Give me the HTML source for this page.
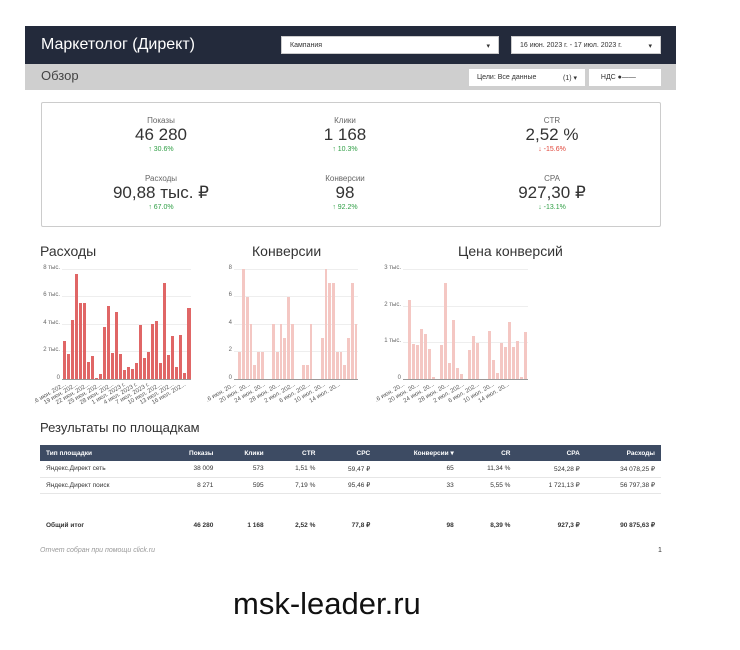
<!DOCTYPE html><html><head><meta charset="utf-8"><style>
*{margin:0;padding:0;box-sizing:border-box}
body{width:740px;height:650px;background:#fff;font-family:"Liberation Sans","Noto Sans CJK SC",sans-serif;position:relative;overflow:hidden;color:#333}
.a{position:absolute}
.hd{left:25px;top:26px;width:651px;height:38px;background:#232a3b}
.sb{left:25px;top:64px;width:651px;height:26px;background:#cfcfcf}
.dd{background:#fff;font-size:7px;color:#333;padding:5px 8px;height:18px;border:1px solid #ccc}
.kpi{left:41px;top:102px;width:620px;height:125px;border:1px solid #ccc;border-radius:2px}
.k{position:absolute;width:200px;text-align:center}
.k .l{font-size:8px;color:#666}.k .v{font-size:17px;color:#333;line-height:20px}.k .c{font-size:7px;color:#2e9e44;margin-top:1px}
.ct{font-size:14px;color:#333}
.bars{position:absolute;display:flex;align-items:flex-end;height:110px}
.bars div{flex:1;margin:0 0.5px}
.g{position:absolute;height:1px;background:#eee}
.yl{position:absolute;font-size:6px;color:#666;text-align:right;width:28px}
.xl{position:absolute;font-size:6px;color:#555;transform:rotate(-30deg);transform-origin:right top;white-space:nowrap;text-align:right}
table{border-collapse:collapse;font-size:6.5px}
td,th{padding:0 6px;text-align:right;height:16px}
th{background:#3d4b63;color:#fff;font-weight:bold}
td:first-child,th:first-child{text-align:left}
</style></head><body>
<div class="a hd"></div>
<div class="a" style="left:41px;top:36px;font-size:16px;color:#fff">Маркетолог (Директ)</div>
<div class="a dd" style="left:281px;top:36px;width:218px">Кампания<span style="float:right">▾</span></div>
<div class="a dd" style="left:511px;top:36px;width:150px">16 июн. 2023 г. - 17 июл. 2023 г.<span style="float:right">▾</span></div>
<div class="a sb"></div>
<div class="a" style="left:41px;top:68px;font-size:13px;color:#444">Обзор</div>
<div class="a dd" style="left:469px;top:69px;width:116px;height:17px;border:none">Цели: Все данные<span style="float:right">(1) ▾</span></div>
<div class="a dd" style="left:589px;top:69px;width:72px;height:17px;border:none">&nbsp;&nbsp;НДС ●——</div>
<div class="a kpi"></div>
<div class="k" style="left:61px;top:116px"><div class="l">Показы</div><div class="v">46 280</div><div class="c">↑ 30.6%</div></div>
<div class="k" style="left:245px;top:116px"><div class="l">Клики</div><div class="v">1 168</div><div class="c">↑ 10.3%</div></div>
<div class="k" style="left:452px;top:116px"><div class="l">CTR</div><div class="v">2,52 %</div><div class="c" style="color:#e0463a">↓ -15.6%</div></div>
<div class="k" style="left:61px;top:174px"><div class="l">Расходы</div><div class="v">90,88 тыс. ₽</div><div class="c">↑ 67.0%</div></div>
<div class="k" style="left:245px;top:174px"><div class="l">Конверсии</div><div class="v">98</div><div class="c">↑ 92.2%</div></div>
<div class="k" style="left:452px;top:174px"><div class="l">CPA</div><div class="v">927,30 ₽</div><div class="c">↓ -13.1%</div></div>

<div class="a ct" style="left:40px;top:243px">Расходы</div>
<div class="a ct" style="left:252px;top:243px">Конверсии</div>
<div class="a ct" style="left:458px;top:243px">Цена конверсий</div>

<!-- chart1 -->
<div class="g" style="left:62px;top:269px;width:129px"></div><div class="g" style="left:62px;top:296px;width:129px"></div><div class="g" style="left:62px;top:324px;width:129px"></div><div class="g" style="left:62px;top:351px;width:129px"></div>
<div class="yl" style="left:32px;top:265px">8 тыс.</div><div class="yl" style="left:32px;top:292px">6 тыс.</div><div class="yl" style="left:32px;top:320px">4 тыс.</div><div class="yl" style="left:32px;top:347px">2 тыс.</div><div class="yl" style="left:32px;top:375px">0</div>
<div class="bars" style="left:62px;top:269px;width:129px">
<div style="height:38px;background:#e06666"></div><div style="height:25px;background:#e06666"></div><div style="height:59px;background:#e06666"></div><div style="height:105px;background:#e06666"></div><div style="height:76px;background:#e06666"></div><div style="height:76px;background:#e06666"></div><div style="height:17px;background:#e06666"></div><div style="height:23px;background:#e06666"></div><div style="height:1px;background:#e06666"></div><div style="height:5px;background:#e06666"></div><div style="height:52px;background:#e06666"></div><div style="height:73px;background:#e06666"></div><div style="height:26px;background:#e06666"></div><div style="height:67px;background:#e06666"></div><div style="height:25px;background:#e06666"></div><div style="height:9px;background:#e06666"></div><div style="height:12px;background:#e06666"></div><div style="height:10px;background:#e06666"></div><div style="height:16px;background:#e06666"></div><div style="height:54px;background:#e06666"></div><div style="height:21px;background:#e06666"></div><div style="height:27px;background:#e06666"></div><div style="height:55px;background:#e06666"></div><div style="height:58px;background:#e06666"></div><div style="height:16px;background:#e06666"></div><div style="height:96px;background:#e06666"></div><div style="height:24px;background:#e06666"></div><div style="height:43px;background:#e06666"></div><div style="height:12px;background:#e06666"></div><div style="height:44px;background:#e06666"></div><div style="height:6px;background:#e06666"></div><div style="height:71px;background:#e06666"></div>
</div>
<div class="g" style="left:62px;top:379px;width:129px;background:#999"></div>
<div class="xl" style="right:676px;top:382px">.6 июн. 202...</div><div class="xl" style="right:664px;top:382px">19 июн. 202...</div><div class="xl" style="right:652px;top:382px">22 июн. 202...</div><div class="xl" style="right:640px;top:382px">25 июн. 202...</div><div class="xl" style="right:628px;top:382px">28 июн. 202...</div><div class="xl" style="right:616px;top:382px">1 июл. 2023 г.</div><div class="xl" style="right:604px;top:382px">4 июл. 2023 г.</div><div class="xl" style="right:592px;top:382px">7 июл. 2023 г.</div><div class="xl" style="right:580px;top:382px">10 июл. 202...</div><div class="xl" style="right:568px;top:382px">13 июл. 202...</div><div class="xl" style="right:556px;top:382px">16 июл. 202...</div>

<!-- chart2 -->
<div class="g" style="left:234px;top:269px;width:124px"></div><div class="g" style="left:234px;top:296px;width:124px"></div><div class="g" style="left:234px;top:324px;width:124px"></div><div class="g" style="left:234px;top:351px;width:124px"></div>
<div class="yl" style="left:204px;top:265px">8</div><div class="yl" style="left:204px;top:292px">6</div><div class="yl" style="left:204px;top:320px">4</div><div class="yl" style="left:204px;top:347px">2</div><div class="yl" style="left:204px;top:375px">0</div>
<div class="bars" style="left:234px;top:269px;width:124px">
<div style="height:0"></div><div style="height:27px;background:#f4c7c3"></div><div style="height:110px;background:#f4c7c3"></div><div style="height:82px;background:#f4c7c3"></div><div style="height:55px;background:#f4c7c3"></div><div style="height:14px;background:#f4c7c3"></div><div style="height:27px;background:#f4c7c3"></div><div style="height:27px;background:#f4c7c3"></div><div style="height:0"></div><div style="height:0"></div><div style="height:55px;background:#f4c7c3"></div><div style="height:27px;background:#f4c7c3"></div><div style="height:55px;background:#f4c7c3"></div><div style="height:41px;background:#f4c7c3"></div><div style="height:82px;background:#f4c7c3"></div><div style="height:55px;background:#f4c7c3"></div><div style="height:0"></div><div style="height:0"></div><div style="height:14px;background:#f4c7c3"></div><div style="height:14px;background:#f4c7c3"></div><div style="height:55px;background:#f4c7c3"></div><div style="height:0"></div><div style="height:0"></div><div style="height:41px;background:#f4c7c3"></div><div style="height:110px;background:#f4c7c3"></div><div style="height:96px;background:#f4c7c3"></div><div style="height:96px;background:#f4c7c3"></div><div style="height:27px;background:#f4c7c3"></div><div style="height:27px;background:#f4c7c3"></div><div style="height:14px;background:#f4c7c3"></div><div style="height:41px;background:#f4c7c3"></div><div style="height:96px;background:#f4c7c3"></div><div style="height:55px;background:#f4c7c3"></div>
</div>
<div class="g" style="left:234px;top:379px;width:124px;background:#999"></div>
<div class="xl" style="right:506px;top:382px">.6 июн. 20...</div><div class="xl" style="right:491px;top:382px">20 июн. 20...</div><div class="xl" style="right:476px;top:382px">24 июн. 20...</div><div class="xl" style="right:461px;top:382px">28 июн. 20...</div><div class="xl" style="right:446px;top:382px">2 июл. 202...</div><div class="xl" style="right:431px;top:382px">6 июл. 202...</div><div class="xl" style="right:416px;top:382px">10 июл. 20...</div><div class="xl" style="right:401px;top:382px">14 июл. 20...</div>

<!-- chart3 -->
<div class="g" style="left:403px;top:269px;width:125px"></div><div class="g" style="left:403px;top:306px;width:125px"></div><div class="g" style="left:403px;top:342px;width:125px"></div>
<div class="yl" style="left:373px;top:265px">3 тыс.</div><div class="yl" style="left:373px;top:302px">2 тыс.</div><div class="yl" style="left:373px;top:338px">1 тыс.</div><div class="yl" style="left:373px;top:375px">0</div>
<div class="bars" style="left:403px;top:269px;width:125px">
<div style="height:0"></div><div style="height:79px;background:#f4c7c3"></div><div style="height:35px;background:#f4c7c3"></div><div style="height:34px;background:#f4c7c3"></div><div style="height:50px;background:#f4c7c3"></div><div style="height:45px;background:#f4c7c3"></div><div style="height:30px;background:#f4c7c3"></div><div style="height:2px;background:#f4c7c3"></div><div style="height:0"></div><div style="height:34px;background:#f4c7c3"></div><div style="height:96px;background:#f4c7c3"></div><div style="height:16px;background:#f4c7c3"></div><div style="height:59px;background:#f4c7c3"></div><div style="height:11px;background:#f4c7c3"></div><div style="height:5px;background:#f4c7c3"></div><div style="height:0"></div><div style="height:29px;background:#f4c7c3"></div><div style="height:43px;background:#f4c7c3"></div><div style="height:36px;background:#f4c7c3"></div><div style="height:0"></div><div style="height:0"></div><div style="height:48px;background:#f4c7c3"></div><div style="height:19px;background:#f4c7c3"></div><div style="height:6px;background:#f4c7c3"></div><div style="height:36px;background:#f4c7c3"></div><div style="height:32px;background:#f4c7c3"></div><div style="height:57px;background:#f4c7c3"></div><div style="height:32px;background:#f4c7c3"></div><div style="height:38px;background:#f4c7c3"></div><div style="height:2px;background:#f4c7c3"></div><div style="height:47px;background:#f4c7c3"></div>
</div>
<div class="g" style="left:403px;top:379px;width:125px;background:#999"></div>
<div class="xl" style="right:337px;top:382px">.6 июн. 20...</div><div class="xl" style="right:322px;top:382px">20 июн. 20...</div><div class="xl" style="right:307px;top:382px">24 июн. 20...</div><div class="xl" style="right:292px;top:382px">28 июн. 20...</div><div class="xl" style="right:277px;top:382px">2 июл. 202...</div><div class="xl" style="right:262px;top:382px">6 июл. 202...</div><div class="xl" style="right:247px;top:382px">10 июл. 20...</div><div class="xl" style="right:232px;top:382px">14 июл. 20...</div>

<div class="a" style="left:40px;top:420px;font-size:13px;color:#333">Результаты по площадкам</div>
<table class="a" style="left:40px;top:445px;width:621px">
<tr><th>Тип площадки</th><th>Показы</th><th>Клики</th><th>CTR</th><th>CPC</th><th>Конверсии ▾</th><th>CR</th><th>CPA</th><th>Расходы</th></tr>
<tr style="border-bottom:1px solid #e6e6e6"><td>Яндекс.Директ сеть</td><td>38 009</td><td>573</td><td>1,51 %</td><td>59,47 ₽</td><td>65</td><td>11,34 %</td><td>524,28 ₽</td><td>34 078,25 ₽</td></tr>
<tr style="border-bottom:1px solid #e6e6e6"><td>Яндекс.Директ поиск</td><td>8 271</td><td>595</td><td>7,19 %</td><td>95,46 ₽</td><td>33</td><td>5,55 %</td><td>1 721,13 ₽</td><td>56 797,38 ₽</td></tr>
<tr><td colspan="9" style="height:24px"></td></tr>
<tr style="font-weight:bold"><td>Общий итог</td><td>46 280</td><td>1 168</td><td>2,52 %</td><td>77,8 ₽</td><td>98</td><td>8,39 %</td><td>927,3 ₽</td><td>90 875,63 ₽</td></tr>
</table>
<div class="a" style="left:40px;top:547px;font-size:7px;color:#999;font-style:italic">Отчет собран при помощи click.ru</div>
<div class="a" style="left:658px;top:547px;font-size:7px;color:#333">1</div>
<div class="a" style="left:233px;top:586px;font-size:31px;color:#111">msk-leader.ru</div>
</body></html>
